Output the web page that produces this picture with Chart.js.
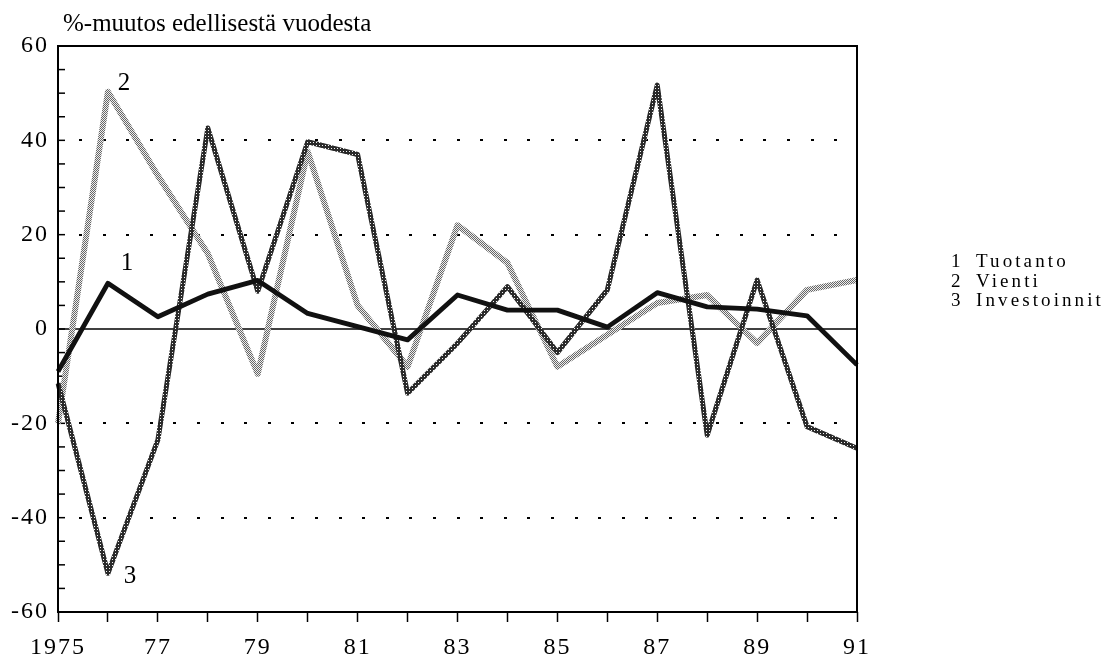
<!DOCTYPE html>
<html>
<head>
<meta charset="utf-8">
<script src="https://cdn.jsdelivr.net/npm/chart.js@4.4.0/dist/chart.umd.min.js"></script>
<style>
html,body{margin:0;padding:0;background:#fff;}
#wrap{width:1117px;height:659px;position:relative;}
</style>
</head>
<body>
<div id="wrap"><canvas id="c" width="1117" height="659"></canvas></div>
<script>
// ---- data ----
const years = [1975,1976,1977,1978,1979,1980,1981,1982,1983,1984,1985,1986,1987,1988,1989,1990,1991];
const xTickLabels = ['1975','77','79','81','83','85','87','89','91'];
const yTickValues = [-60,-40,-20,0,20,40,60];
const yTickLabels = ['-60','-40','-20','0','20','40','60'];
const dottedGridValues = [-40,-20,20,40];
const titleText = '%-muutos edellisestä vuodesta';
const seriesNumbers = ['1','2','3'];
const seriesNames = ['Tuotanto','Vienti','Investoinnit'];

const tuotanto     = [-9.0, 9.7, 2.6, 7.4, 10.3, 3.3, 0.5, -2.3, 7.2, 4.0, 4.0, 0.4, 7.7, 4.7, 4.2, 2.8, -7.6];
const vienti       = [-20, 50.3, 32.5, 16, -9.5, 37.6, 5, -8, 22, 14, -8, -1.2, 5.5, 7.2, -3, 8.3, 10.4];
const investoinnit = [-11.5, -51.8, -23.5, 42.6, 8, 39.7, 37, -13.6, -3, 9, -5, 8.3, 51.7, -22.5, 10.4, -20.7, -25.3];

// ---- styling helpers ----
const FONT = '"Liberation Serif", "DejaVu Serif", "Times New Roman", serif';
Chart.defaults.font.family = FONT;
Chart.defaults.color = '#000';

function makePattern(size, fn) {
  const c = document.createElement('canvas');
  c.width = size; c.height = size;
  const g = c.getContext('2d');
  for (let yy = 0; yy < size; yy++) for (let xx = 0; xx < size; xx++) {
    g.fillStyle = fn(xx, yy);
    g.fillRect(xx, yy, 1, 1);
  }
  return g.createPattern(c, 'repeat');
}
const cv = document.getElementById('c');
const viePattern = makePattern(2, (x, y) => ((x + y) % 2 === 0) ? '#666666' : '#eeeeee');
const invPattern = makePattern(3, (x, y) => (x === 1 && y === 1) ? '#f4f4f4' : '#2a2a2a');

const decor = {
  id: 'decor',
  beforeDraw(chart) {
    // spaced-out lettering of the scanned original, used by the axis labels
    chart.ctx.letterSpacing = '2px';
  },
  beforeDatasetsDraw(chart) {
    const {ctx, chartArea: a, scales: {y}} = chart;
    ctx.save();
    // dotted grid lines
    ctx.fillStyle = '#000';
    for (const v of dottedGridValues) {
      const py = Math.round(y.getPixelForValue(v));
      for (let k = 0; ; k++) {
        const px = a.left + 22 + k * 23.6;
        if (px > a.right - 4) break;
        ctx.fillRect(Math.round(px) - 1, py - 1, 3, 2);
      }
    }
    // zero line
    ctx.strokeStyle = '#000';
    ctx.lineWidth = 1.5;
    const z = y.getPixelForValue(0);
    ctx.beginPath(); ctx.moveTo(a.left, z); ctx.lineTo(a.right, z); ctx.stroke();
    // inward tick marks on the y axis
    ctx.lineWidth = 1.5;
    y.ticks.forEach(t => {
      const py = y.getPixelForValue(t.value);
      ctx.beginPath(); ctx.moveTo(a.left, py); ctx.lineTo(a.left + 7, py); ctx.stroke();
    });
    ctx.restore();
  },
  afterDatasetsDraw(chart) {
    const {ctx, chartArea: a, scales: {x, y}} = chart;
    ctx.save();
    // frame
    ctx.strokeStyle = '#000';
    ctx.lineWidth = 2;
    ctx.strokeRect(a.left, a.top, a.right - a.left, a.bottom - a.top);
    // series number annotations near 1976 points
    ctx.fillStyle = '#000';
    ctx.font = '25px ' + FONT;
    ctx.letterSpacing = '0px';
    ctx.textAlign = 'center';
    ctx.textBaseline = 'middle';
    const offs = [[19, -20], [16, -8], [22, 3]];
    const sets = [tuotanto, vienti, investoinnit];
    for (let s = 0; s < 3; s++) {
      const px = x.getPixelForValue(1);
      const py = y.getPixelForValue(sets[s][1]);
      ctx.fillText(seriesNumbers[s], px + offs[s][0], py + offs[s][1]);
    }
    ctx.restore();
  },
  afterDraw(chart) {
    const {ctx, chartArea: a} = chart;
    ctx.save();
    ctx.fillStyle = '#000';
    // title
    ctx.font = '25px ' + FONT;
    ctx.textAlign = 'left';
    ctx.textBaseline = 'alphabetic';
    ctx.letterSpacing = '0px';
    ctx.fillText(titleText, a.left + 5, 31);
    // legend text
    ctx.font = '19px ' + FONT;
    ctx.letterSpacing = '3.1px';
    const baselines = [267, 287, 306];
    for (let i = 0; i < 3; i++) {
      ctx.textAlign = 'left';
      ctx.fillText(seriesNumbers[i], 951, baselines[i]);
      ctx.fillText(seriesNames[i], 976, baselines[i]);
    }
    ctx.restore();
  }
};

new Chart(cv.getContext('2d'), {
  type: 'line',
  data: {
    labels: years.map(String),
    datasets: [
      {label: seriesNames[0], data: tuotanto, borderColor: '#111111', borderWidth: 4.8, order: 0},
      {label: seriesNames[1], data: vienti, borderColor: viePattern, borderWidth: 6, order: 2},
      {label: seriesNames[2], data: investoinnit, borderColor: invPattern, borderWidth: 5, order: 1}
    ]
  },
  options: {
    responsive: false,
    animation: false,
    devicePixelRatio: 1,
    events: [],
    elements: {
      point: {radius: 0, hoverRadius: 0},
      line: {tension: 0, fill: false, borderJoinStyle: 'round', borderCapStyle: 'butt'}
    },
    layout: {padding: {left: 0, top: 46, right: 260, bottom: 0}},
    plugins: {legend: {display: false}, tooltip: {enabled: false}, title: {display: false}},
    scales: {
      x: {
        type: 'category',
        offset: false,
        grid: {display: true, drawOnChartArea: false, drawTicks: true, tickLength: 10, tickWidth: 1.5, tickColor: '#000', offset: false},
        border: {display: false},
        ticks: {
          autoSkip: false, maxRotation: 0, minRotation: 0, padding: 11, color: '#000',
          font: {size: 24},
          callback: (v, i) => (i % 2 === 0 ? xTickLabels[i / 2] : '')
        },
        afterFit: s => { s.height = 47; }
      },
      y: {
        min: -60, max: 60,
        grid: {display: false, drawTicks: false},
        border: {display: false},
        ticks: {
          stepSize: 5, autoSkip: false, padding: 9, color: '#000',
          font: {size: 24},
          callback: v => { const i = yTickValues.indexOf(v); return i < 0 ? '' : yTickLabels[i]; }
        },
        afterFit: s => { s.width = 58; }
      }
    }
  },
  plugins: [decor]
});
</script>
</body>
</html>
